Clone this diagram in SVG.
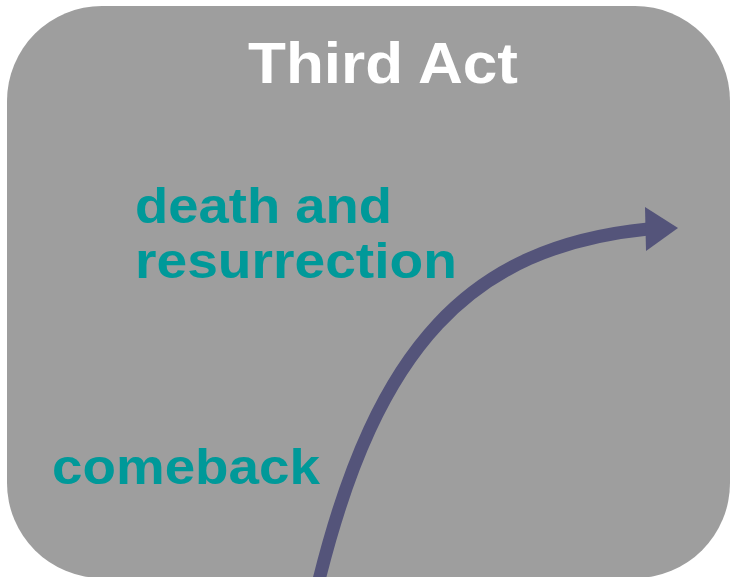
<svg xmlns="http://www.w3.org/2000/svg" width="731" height="577" viewBox="0 0 731 577">
  <style>
    .t { font-family: "Liberation Sans", Arial, sans-serif; font-weight: bold; }
    .title { fill: #ffffff; font-size: 57px; }
    .lbl { fill: #009999; font-size: 50px; }
  </style>
  <rect width="731" height="577" fill="#ffffff"/>
  <g id="panel">
    <rect x="7" y="6" width="723" height="572" rx="95" ry="95" fill="#9e9e9e"/>
    <text class="t title" x="248" y="83" textLength="270" lengthAdjust="spacingAndGlyphs">Third Act</text>
  </g>
  <g id="label-death">
    <text class="t lbl" x="135" y="223" textLength="257" lengthAdjust="spacingAndGlyphs">death and</text>
    <text class="t lbl" x="135" y="278" textLength="322" lengthAdjust="spacingAndGlyphs">resurrection</text>
  </g>
  <g id="label-comeback">
    <text class="t lbl" x="52" y="484" textLength="268" lengthAdjust="spacingAndGlyphs">comeback</text>
  </g>
  <g id="connectors">
    <path d="M319,580 C377,347 469,247 648,229" fill="none" stroke="#54547a" stroke-width="13"/>
    <polygon points="645,207 678,228 646,251" fill="#54547a"/>
  </g>
</svg>
